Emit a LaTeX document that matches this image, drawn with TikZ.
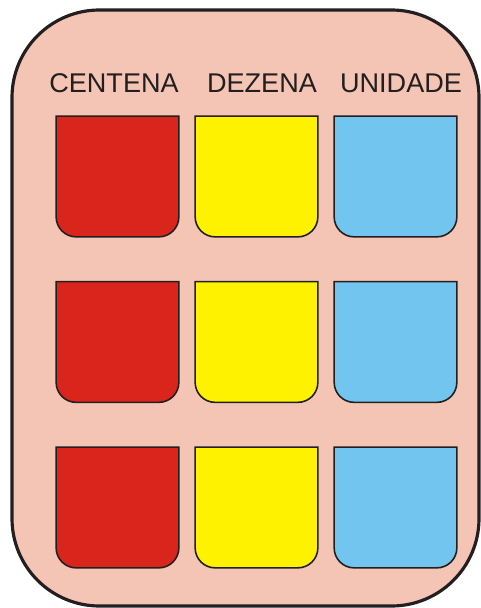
\documentclass[tikz,border=0pt]{standalone}
\usepackage{fontspec}
\setmainfont{Liberation Sans}
\usetikzlibrary{positioning}
\definecolor{cBoard}{HTML}{F4C4B4}
\definecolor{cRed}{HTML}{D9251C}
\definecolor{cYel}{HTML}{FFF200}
\definecolor{cBlue}{HTML}{72C5EF}
\definecolor{cInk}{HTML}{231F20}
\tikzset{
  board/.style ={draw=cInk,fill=cBoard,line width=1.8pt,rounded corners=1.75cm,
                 minimum width=9.34cm,minimum height=11.92cm,inner sep=0pt},
  pocket/.style={inner sep=0pt,minimum width=2.44cm,minimum height=2.4cm},
  pline/.style ={draw=cInk,line width=0.9pt},
  head/.style  ={font=\fontsize{15.4}{18}\selectfont,text=cInk,anchor=base},
}
\begin{document}
\begin{tikzpicture}
\useasboundingbox (0,0) rectangle (9.6,-12.16);
\node[board] (brd) at (4.91,-6.16) {};
% column titles
\node[head] (tc) at (2.28,-1.85) {CENTENA};
\node[head] (td) at (5.24,-1.85) {DEZENA};
\node[head] (tu) at (8.02,-1.85) {UNIDADE};
% pockets
\node[pocket] (c1) at (2.35,-3.53)  {};
\node[pocket] (d1) at (5.13,-3.53)  {};
\node[pocket] (u1) at (7.91,-3.53)  {};
\node[pocket] (c2) at (2.35,-6.84)  {};
\node[pocket] (d2) at (5.13,-6.84)  {};
\node[pocket] (u2) at (7.91,-6.84)  {};
\node[pocket] (c3) at (2.35,-10.15) {};
\node[pocket] (d3) at (5.13,-10.15) {};
\node[pocket] (u3) at (7.91,-10.15) {};
\foreach \p/\col in {c1/cRed,d1/cYel,u1/cBlue,c2/cRed,d2/cYel,u2/cBlue,c3/cRed,d3/cYel,u3/cBlue}
  \filldraw[pline,fill=\col] (\p.north west) -- ([yshift=0.4cm]\p.south west)
    arc[start angle=180,end angle=270,radius=0.4cm] -- ([xshift=-0.4cm]\p.south east)
    arc[start angle=270,end angle=360,radius=0.4cm] -- (\p.north east) -- cycle;
\end{tikzpicture}
\end{document}
